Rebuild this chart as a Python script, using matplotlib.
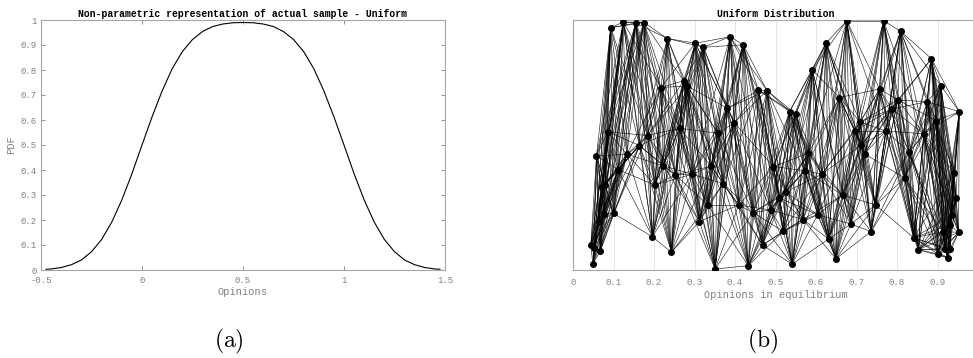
import numpy as np
import matplotlib.pyplot as plt
from matplotlib.collections import LineCollection

plt.rcParams['mathtext.fontset'] = 'cm'
MONO = 'Liberation Mono'
GREY = '#808080'
SPINE = '#a6a6a6'

# ── (a) kernel density estimate of the sample ───────────────────────────────
pdf_x = [-0.475, -0.45, -0.40, -0.35, -0.30, -0.25, -0.20, -0.15, -0.10, -0.05,
         0.00, 0.05, 0.10, 0.15, 0.20, 0.25, 0.30, 0.35, 0.40, 0.45,
         0.50, 0.55, 0.60, 0.65, 0.70, 0.75, 0.80, 0.85, 0.90, 0.95,
         1.00, 1.05, 1.10, 1.15, 1.20, 1.25, 1.30, 1.35, 1.40, 1.45, 1.475]
pdf_y = [0.003, 0.004, 0.010, 0.021, 0.040, 0.073, 0.122, 0.191, 0.280, 0.385,
         0.500, 0.613, 0.717, 0.806, 0.874, 0.922, 0.954, 0.974, 0.984, 0.989,
         0.990, 0.989, 0.984, 0.974, 0.954, 0.922, 0.874, 0.806, 0.717, 0.613,
         0.500, 0.385, 0.280, 0.191, 0.122, 0.073, 0.040, 0.021, 0.010, 0.004, 0.003]

# ── (b) agents: equilibrium opinion (x) and drawing height (y) ──────────────
node_x = [0.093, 0.124, 0.155, 0.175, 0.233, 0.302, 0.322, 0.388, 0.420,
          0.217, 0.273, 0.282, 0.458, 0.479, 0.535, 0.550, 0.591, 0.625,
          0.676, 0.767, 0.809, 0.885, 0.908, 0.954, 0.658, 0.757, 0.802,
          0.875, 0.787, 0.897, 0.709, 0.696, 0.772, 0.712, 0.720, 0.866,
          0.830, 0.819, 0.941, 0.946, 0.952, 0.841, 0.853, 0.901, 0.925,
          0.918, 0.930, 0.914, 0.935, 0.930, 0.736, 0.747, 0.686, 0.666,
          0.649, 0.631, 0.604, 0.614, 0.572, 0.581, 0.568, 0.541, 0.519,
          0.525, 0.509, 0.495, 0.488, 0.468, 0.444, 0.433, 0.409, 0.398,
          0.381, 0.358, 0.371, 0.341, 0.333, 0.312, 0.351, 0.294, 0.263,
          0.253, 0.223, 0.202, 0.243, 0.196, 0.184, 0.164, 0.133, 0.111,
          0.086, 0.058, 0.072, 0.079, 0.100, 0.077, 0.063, 0.044, 0.049,
          0.067, 0.052]
node_y = [0.969, 0.992, 0.988, 0.990, 0.926, 0.907, 0.891, 0.933, 0.901,
          0.730, 0.757, 0.736, 0.719, 0.718, 0.634, 0.624, 0.800, 0.908,
          0.997, 0.997, 0.955, 0.845, 0.738, 0.633, 0.690, 0.724, 0.680,
          0.673, 0.644, 0.598, 0.592, 0.556, 0.556, 0.500, 0.465, 0.545,
          0.472, 0.368, 0.390, 0.289, 0.151, 0.129, 0.081, 0.064, 0.049,
          0.086, 0.083, 0.153, 0.220, 0.180, 0.154, 0.260, 0.184, 0.300,
          0.045, 0.124, 0.221, 0.383, 0.397, 0.467, 0.202, 0.023, 0.155,
          0.312, 0.289, 0.414, 0.240, 0.100, 0.230, 0.017, 0.260, 0.589,
          0.647, 0.547, 0.346, 0.415, 0.260, 0.194, 0.004, 0.383, 0.567,
          0.380, 0.417, 0.340, 0.071, 0.133, 0.538, 0.498, 0.463, 0.402,
          0.553, 0.456, 0.332, 0.340, 0.227, 0.226, 0.192, 0.100, 0.023,
          0.075, 0.087]
CONFIDENCE = 0.1   # agents closer than this in opinion are linked

W, H = 973, 358
fig = plt.figure(figsize=(W / 100, H / 100), dpi=100)


def px_axes(x0, x1, y0, y1):
    return fig.add_axes([x0 / W, 1 - y1 / H, (x1 - x0) / W, (y1 - y0) / H])


def style(ax):
    for s in ax.spines.values():
        s.set_color(SPINE)
        s.set_linewidth(0.8)
    ax.tick_params(direction='in', length=3, width=0.6, color=GREY,
                   labelcolor=GREY, labelsize=6.5, pad=4)
    for lab in ax.get_xticklabels() + ax.get_yticklabels():
        lab.set_family(MONO)


# ── left panel ──────────────────────────────────────────────────────────────
ax1 = px_axes(41, 445, 20, 270)
ax1.plot(pdf_x, pdf_y, color='black', lw=0.8)
ax1.set_xlim(-0.5, 1.5)
ax1.set_ylim(0, 1)
ax1.set_xticks([-0.5, 0, 0.5, 1, 1.5])
ax1.set_xticklabels(['-0.5', '0', '0.5', '1', '1.5'])
ax1.set_yticks(np.arange(0, 11) / 10)
ax1.set_yticklabels(['0'] + ['0.%d' % i for i in range(1, 10)] + ['1'])
ax1.tick_params(top=True, right=True)
style(ax1)
ax1.tick_params(axis='y', pad=3)
ax1.set_title('Non-parametric representation of actual sample - Uniform',
              family=MONO, fontsize=7, fontweight='bold', pad=2)
ax1.set_xlabel('Opinions', family=MONO, fontsize=7.5, color=GREY, labelpad=2)
ax1.set_ylabel('PDF', family=MONO, fontsize=7.5, color=GREY, labelpad=3)

# ── right panel ─────────────────────────────────────────────────────────────
ax2 = px_axes(573, 978, 20, 270)
xs = np.array(node_x)
ys = np.array(node_y)
segs = []
for i in range(len(xs)):
    for j in range(i + 1, len(xs)):
        if abs(xs[i] - xs[j]) < CONFIDENCE:
            segs.append([(xs[i], ys[i]), (xs[j], ys[j])])
ax2.add_collection(LineCollection(segs, colors='black', linewidths=0.45, alpha=0.85))
ax2.plot(xs, ys, 'o', color='black', markersize=4, zorder=3)
ax2.set_xlim(0, 1)
ax2.set_ylim(0, 1)
ax2.set_xticks(np.arange(0, 10) / 10)
ax2.set_xticklabels(['0'] + ['0.%d' % i for i in range(1, 10)])
ax2.set_yticks([])
ax2.grid(axis='x', color='#e3e3e3', lw=0.6)
ax2.set_axisbelow(True)
ax2.spines['right'].set_visible(False)
style(ax2)
ax2.tick_params(length=0, pad=6)
ax2.set_title('Uniform Distribution', family=MONO, fontsize=7,
              fontweight='bold', pad=2)
ax2.set_xlabel('Opinions in equilibrium', family=MONO, fontsize=7.5, color=GREY,
               labelpad=2)

fig.text(229 / W, 1 - 341 / H, r'$\mathrm{(a)}$', ha='center', va='center', fontsize=17)
fig.text(763 / W, 1 - 341 / H, r'$\mathrm{(b)}$', ha='center', va='center', fontsize=17)

fig.savefig('out.png', dpi=100)
